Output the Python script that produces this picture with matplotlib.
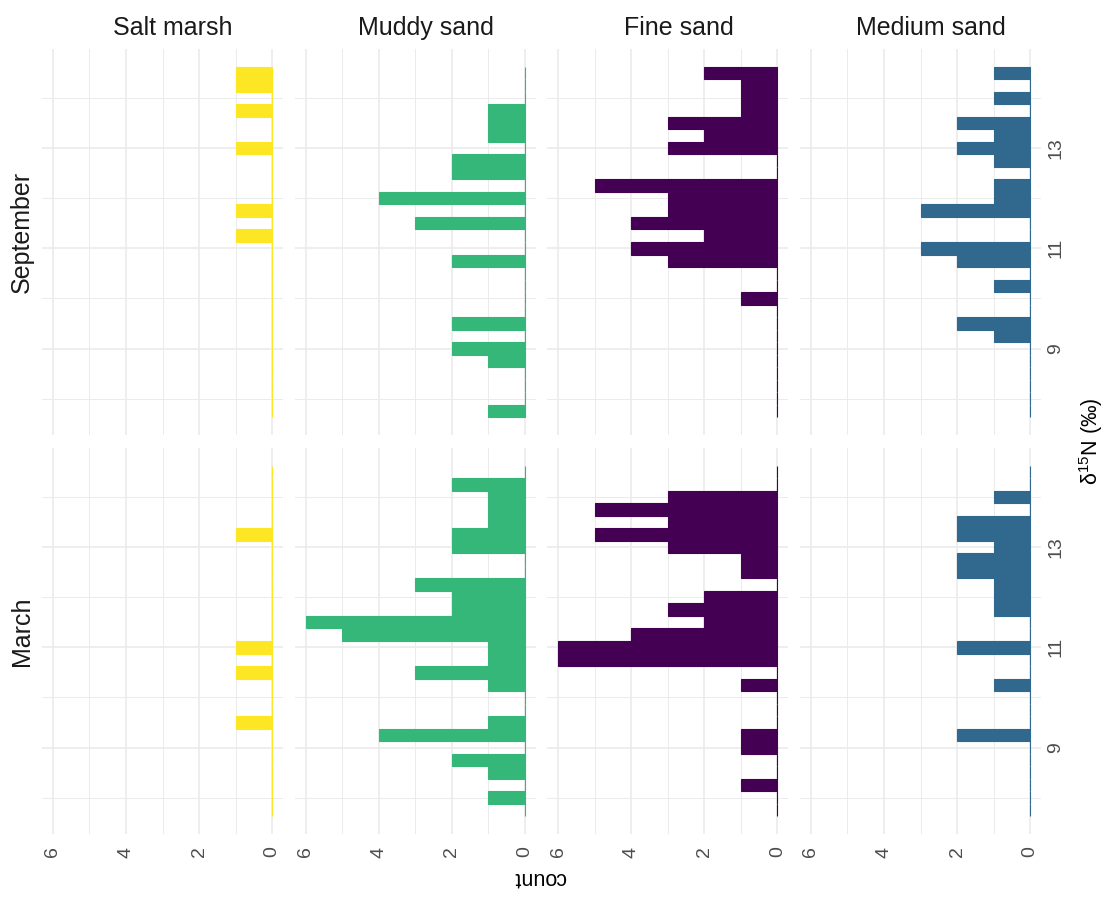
import matplotlib.pyplot as plt

plt.rcParams["font.family"] = ["Liberation Sans", "DejaVu Sans"]
plt.rcParams["mathtext.fontset"] = "custom"
plt.rcParams["mathtext.rm"] = "Liberation Sans"
plt.rcParams["mathtext.it"] = "Liberation Sans:italic"

# d15N histogram bins, 0.25 permil wide, centres from low to high
bin_centres = [7.75, 8.0, 8.25, 8.5, 8.75, 9.0, 9.25, 9.5, 9.75, 10.0,
               10.25, 10.5, 10.75, 11.0, 11.25, 11.5, 11.75, 12.0, 12.25, 12.5,
               12.75, 13.0, 13.25, 13.5, 13.75, 14.0, 14.25, 14.5]
BIN_WIDTH = 0.25

habitats = ["Salt marsh", "Muddy sand", "Fine sand", "Medium sand"]
months = ["September", "March"]
habitat_colours = ["#FDE725", "#35B779", "#440154", "#31688E"]

# counts per bin (same order as bin_centres)
sep_salt_marsh = [0, 0, 0, 0, 0, 0, 0, 0, 0, 0, 0, 0, 0, 0, 1, 0, 1, 0, 0, 0, 0, 1, 0, 0, 1, 0, 1, 1]
sep_muddy_sand = [1, 0, 0, 0, 1, 2, 0, 2, 0, 0, 0, 0, 2, 0, 0, 3, 0, 4, 0, 2, 2, 0, 1, 1, 1, 0, 0, 0]
sep_fine_sand = [0, 0, 0, 0, 0, 0, 0, 0, 0, 1, 0, 0, 3, 4, 2, 4, 3, 3, 5, 0, 0, 3, 2, 3, 1, 1, 1, 2]
sep_medium_sand = [0, 0, 0, 0, 0, 0, 1, 2, 0, 0, 1, 0, 2, 3, 0, 0, 3, 1, 1, 0, 1, 2, 1, 2, 0, 1, 0, 1]

mar_salt_marsh = [0, 0, 0, 0, 0, 0, 0, 1, 0, 0, 0, 1, 0, 1, 0, 0, 0, 0, 0, 0, 0, 0, 1, 0, 0, 0, 0, 0]
mar_muddy_sand = [0, 1, 0, 1, 2, 0, 4, 1, 0, 0, 1, 3, 1, 1, 5, 6, 2, 2, 3, 0, 0, 2, 2, 1, 1, 1, 2, 0]
mar_fine_sand = [0, 0, 1, 0, 0, 1, 1, 0, 0, 0, 1, 0, 6, 6, 4, 2, 3, 2, 0, 1, 1, 3, 5, 3, 5, 3, 0, 0]
mar_medium_sand = [0, 0, 0, 0, 0, 0, 2, 0, 0, 0, 1, 0, 0, 2, 0, 0, 1, 1, 1, 2, 2, 1, 2, 2, 0, 1, 0, 0]

counts = {
    "September": [sep_salt_marsh, sep_muddy_sand, sep_fine_sand, sep_medium_sand],
    "March": [mar_salt_marsh, mar_muddy_sand, mar_fine_sand, mar_medium_sand],
}

count_ticks = [0, 2, 4, 6]
d15n_ticks = [9, 11, 13]

# ── Layout (pixels on a 1107 x 899 canvas) ───────────────────────────────────
W, H = 1107, 899
PANEL_LEFT = [42, 294.7, 547.3, 800]
PANEL_W = 241
ROW_TOP = [49, 448]
PANEL_H = 386

STRIP_COL = "#1A1A1A"
TICK_COL = "#4D4D4D"
GRID_COL = "#EBEBEB"

lo = bin_centres[0] - BIN_WIDTH / 2
hi = bin_centres[-1] + BIN_WIDTH / 2
pad_y = 0.05 * (hi - lo)

fig = plt.figure(figsize=(W / 100, H / 100), dpi=100)

for r, month in enumerate(months):
    for c, habitat in enumerate(habitats):
        rect = [PANEL_LEFT[c] / W, 1 - (ROW_TOP[r] + PANEL_H) / H, PANEL_W / W, PANEL_H / H]
        ax = fig.add_axes(rect)
        colour = habitat_colours[c]
        ax.barh(bin_centres, counts[month][c], height=BIN_WIDTH, color=colour,
                edgecolor=colour, linewidth=0.8, zorder=2)

        ax.set_xlim(6.3, -0.3)
        ax.set_ylim(lo - pad_y, hi + pad_y)
        ax.set_xticks(count_ticks)
        ax.set_xticks([1, 3, 5], minor=True)
        ax.set_yticks(d15n_ticks)
        ax.set_yticks([8, 10, 12, 14], minor=True)
        ax.grid(which="major", color=GRID_COL, linewidth=1.2, zorder=0)
        ax.grid(which="minor", color=GRID_COL, linewidth=0.7, zorder=0)
        ax.set_axisbelow(True)
        for s in ax.spines.values():
            s.set_visible(False)

        ax.yaxis.tick_right()
        ax.tick_params(which="both", length=0)
        ax.tick_params(axis="x", labelsize=14, labelcolor=TICK_COL, labelrotation=90, pad=9)
        ax.tick_params(axis="y", labelsize=14, labelcolor=TICK_COL, labelrotation=90, pad=4.6)
        for lab in ax.get_yticklabels():
            lab.set_va("center")
        if r == 0:
            ax.set_xticklabels([])
            ax.text(0.544, 1 + 21 / PANEL_H, habitat, transform=ax.transAxes,
                    ha="center", va="center", fontsize=18, color=STRIP_COL)
        if c != 3:
            ax.set_yticklabels([])
        if c == 0:
            fig.text(22 / W, 1 - (ROW_TOP[r] + PANEL_H / 2 - 10) / H, month, rotation=90,
                     ha="center", va="center", fontsize=18, color=STRIP_COL)

fig.text(540 / W, 1 - 877 / H, "count", rotation=180, ha="center", va="center",
         fontsize=15.5, color="black")
fig.text(1091 / W, 1 - 441 / H, "δ$^{15}$N (‰)", rotation=90, ha="center", va="center",
         fontsize=15.5, color="black")

fig.savefig("out.png", dpi=100)
